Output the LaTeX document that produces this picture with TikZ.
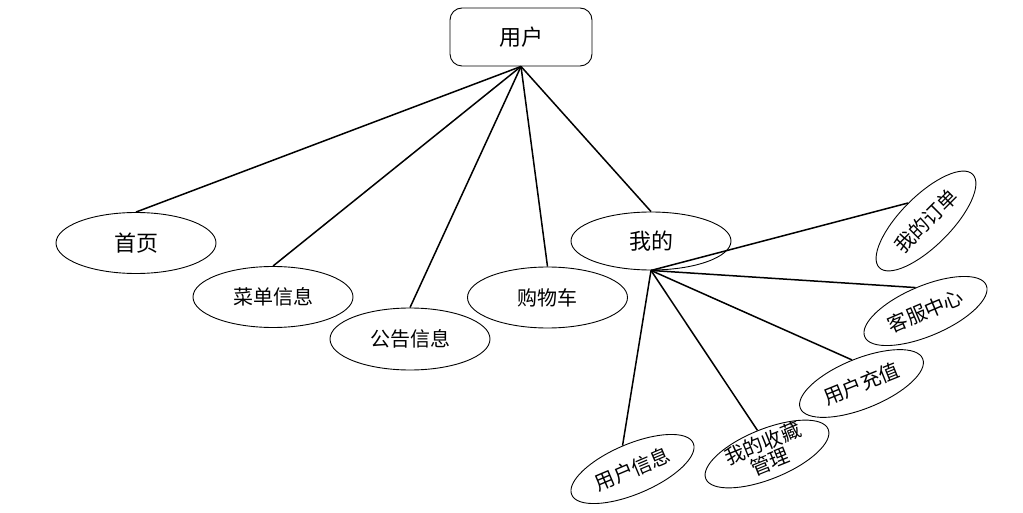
\documentclass[tikz,border=0pt]{standalone}
\usepackage{fontspec}
\newfontfamily\cjk{Noto Sans CJK SC}
\usetikzlibrary{shapes.geometric}
\tikzset{
  rootbox/.style={draw, rounded corners=12pt, minimum width=142pt, minimum height=58pt, inner sep=0pt, line width=0.9pt, font=\cjk\fontsize{22}{25}\selectfont},
  bigell/.style={draw, ellipse, minimum width=160pt, minimum height=61pt, inner sep=0pt, line width=0.9pt, font=\cjk\fontsize{22}{25}\selectfont},
  midell/.style={draw, ellipse, minimum width=160pt, minimum height=61pt, inner sep=0pt, line width=0.9pt, font=\cjk\fontsize{20}{23}\selectfont},
  subell/.style={draw, ellipse, minimum width=132pt, minimum height=50pt, inner sep=0pt, line width=0.9pt, font=\cjk\fontsize{20}{23}\selectfont},
  link/.style={line width=1.5pt}
}
\begin{document}
\begin{tikzpicture}[x=1pt,y=-1pt]
\useasboundingbox (0,0) rectangle (1023,513);
\node[rootbox] (root) at (521,37) {用户};
\node[bigell] (home) at (136,243) {首页};
\node[midell] (menu) at (273,297) {菜单信息};
\node[midell, minimum height=62pt] (notice) at (410,339) {公告信息};
\node[midell] (cart) at (547.5,297.5) {购物车};
\node[bigell, minimum height=58pt] (mine) at (651,241) {我的};
\node[subell, rotate=45] (order) at (926,221) {我的订单};
\node[subell, rotate=23] (service) at (925.5,311) {客服中心};
\node[subell, rotate=22] (recharge) at (861.5,383.5) {用户充值};
\node[subell, rotate=22] (fav) at (767,454) {\smash{\raisebox{-0.3em}{\begin{tabular}{@{}c@{}}我的收藏\\[-4pt]管理\end{tabular}}}};
\node[subell, rotate=23] (info) at (632.5,469) {用户信息};
\foreach \n in {home,menu,notice,cart,mine}
  \draw[link] (root.south) -- (\n.north);
\foreach \n in {order,service,recharge,fav,info}
  \draw[link] (mine.south) -- (\n.north);
\end{tikzpicture}
\end{document}
